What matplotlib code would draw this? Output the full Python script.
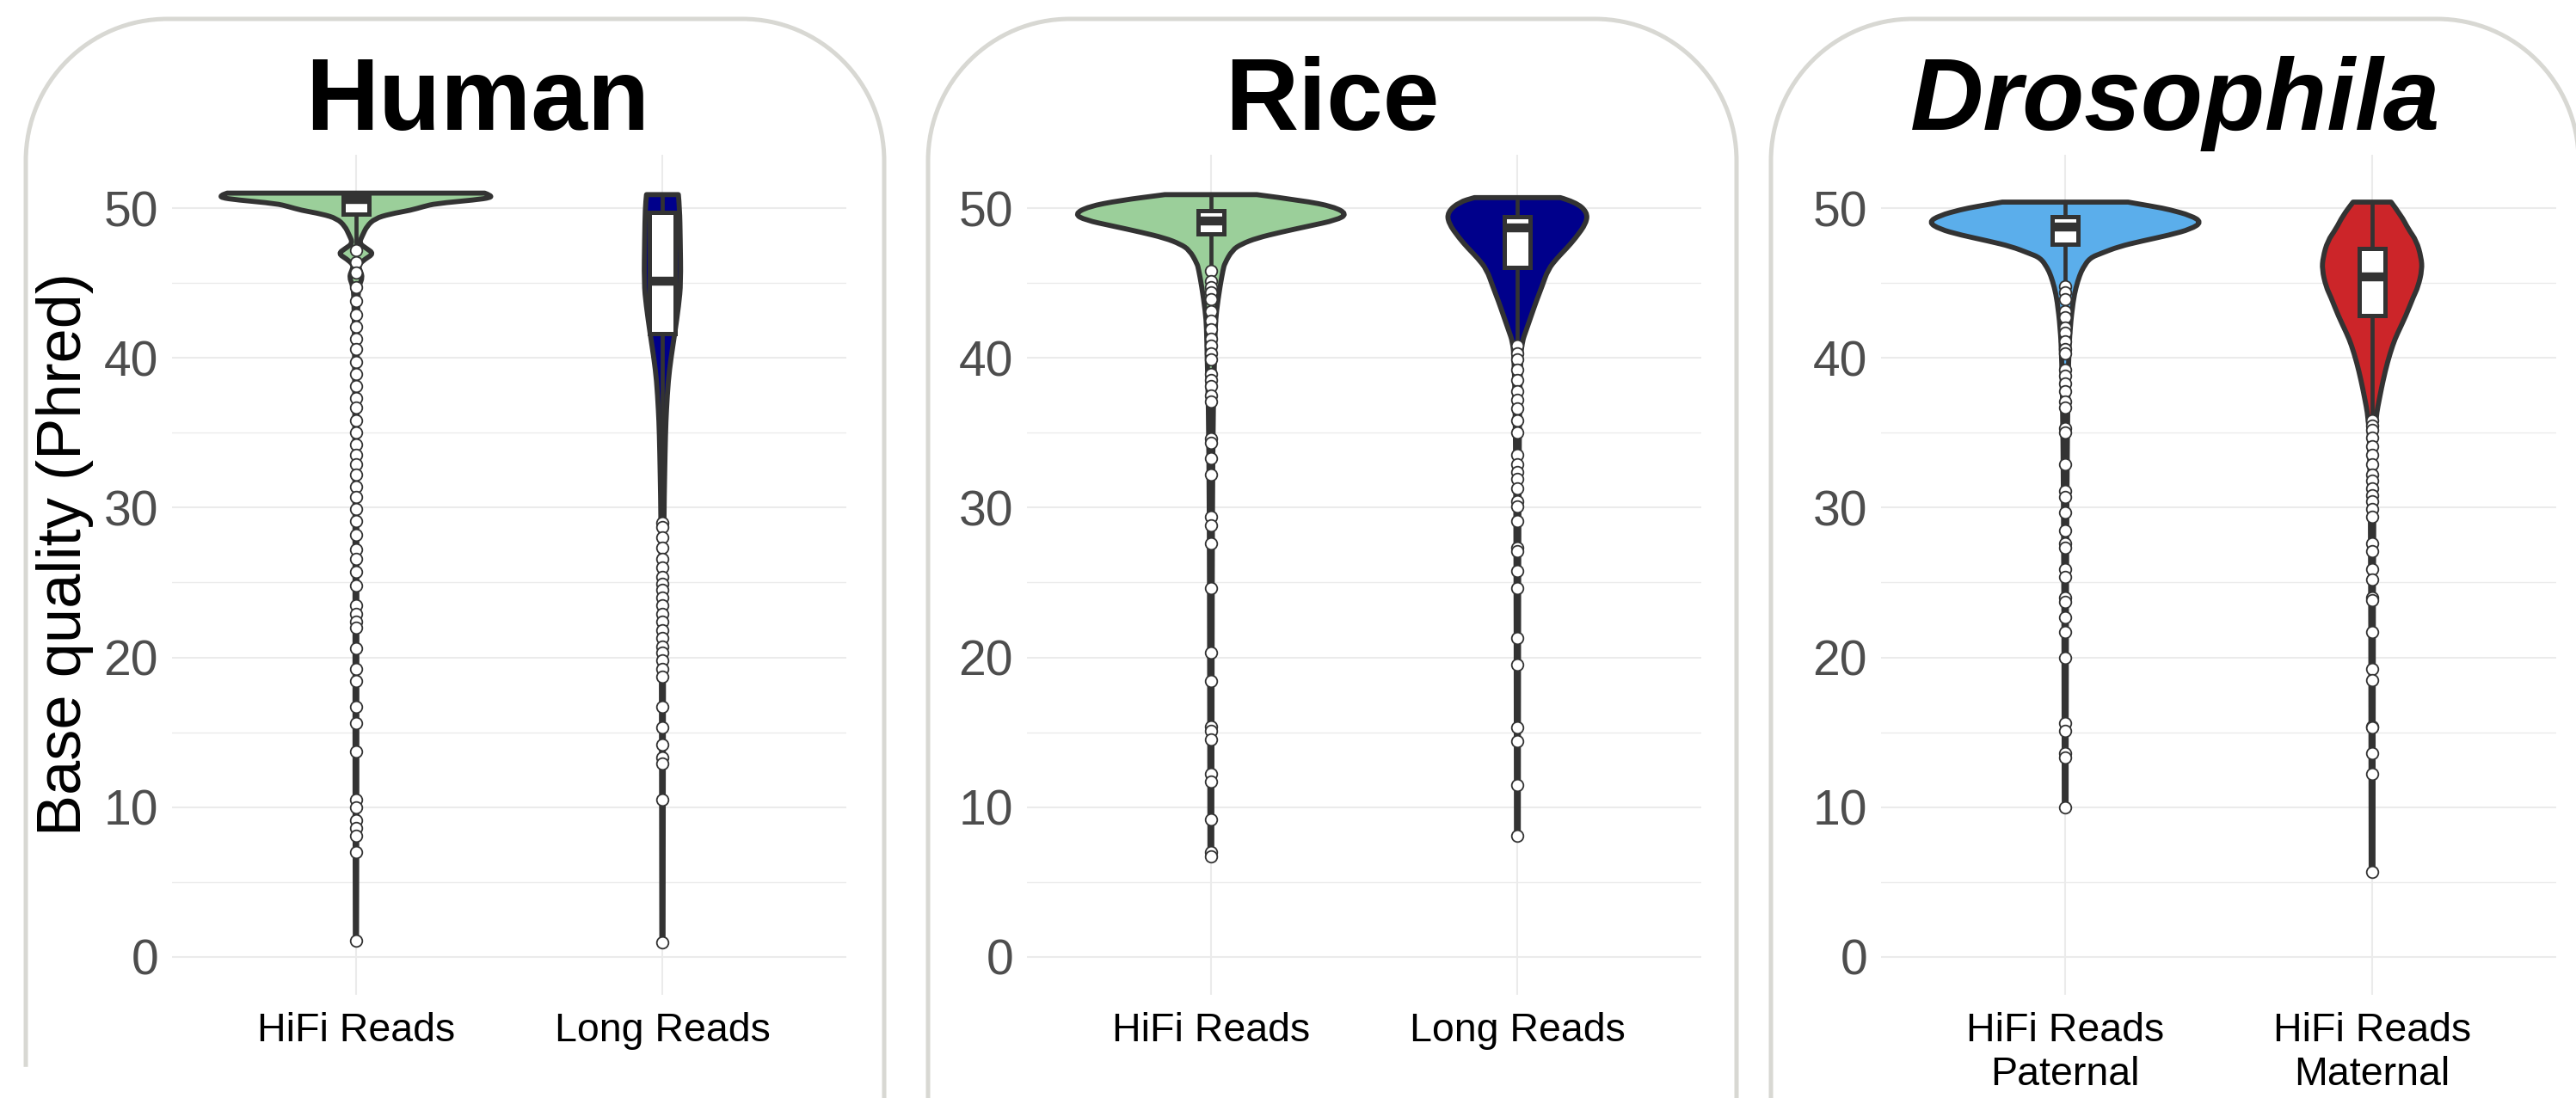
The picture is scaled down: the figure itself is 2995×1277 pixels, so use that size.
"""
Per-base quality of HiFi vs long reads for three genomes,
drawn as violins with an inner boxplot and outlier points.
"""

import matplotlib
matplotlib.use("Agg")
import matplotlib.pyplot as plt
from matplotlib.path import Path
from matplotlib.patches import PathPatch, Rectangle

W, H = 2995, 1277
FONT = "Liberation Sans"
EDGE = "#333333"
GRID = "#EBEBEB"
FRAME = "#D8D8D3"

GREEN = "#9BCF9A"
NAVY = "#00008B"
SKY = "#5BAEEB"
RED = "#CC2529"

# ── Data ───────────────────────────────────────────────────────
# violin profiles: quality level -> half width (in category units)
human_hifi_y = [51.0, 50.85, 50.7, 50.55, 50.3, 50.1, 49.86, 49.6, 49.3, 48.8, 48.2,
                47.65, 47.3, 46.96, 46.6, 46.2, 45.9, 45.4, 44.8, 44.0, 40.0, 30.0,
                20.0, 10.0, 1.1]
human_hifi_w = [0.42, 0.44, 0.44, 0.39, 0.26, 0.22, 0.18, 0.11, 0.062, 0.036, 0.022,
                0.010, 0.035, 0.058, 0.030, 0.008, 0.012, 0.022, 0.010, 0.006, 0.004,
                0.003, 0.003, 0.003, 0.002]
human_hifi_box = dict(q1=49.6, med=50.6, q3=50.9, whislo=47.6, whishi=51.0)
human_hifi_out = [47.2, 46.4, 45.7, 44.7, 43.8, 42.9, 42.1, 41.3, 40.6, 39.7, 38.9,
                  38.1, 37.3, 36.7, 35.8, 35.0, 34.2, 33.5, 32.9, 32.2, 31.4, 30.7,
                  29.9, 29.1, 28.2, 27.2, 26.6, 25.7, 24.8, 23.5, 22.9, 22.4, 22.0,
                  20.6, 19.2, 18.4, 16.7, 15.6, 13.7, 10.5, 10.0, 9.1, 8.6, 8.1, 7.0,
                  1.1]

human_long_y = [50.9, 50.0, 48.0, 45.0, 43.5, 41.6, 40.0, 38.5, 36.5, 35.0, 32.0,
                29.5, 25.0, 15.0, 1.0]
human_long_w = [0.052, 0.056, 0.058, 0.060, 0.053, 0.040, 0.028, 0.019, 0.013,
                0.010, 0.007, 0.005, 0.004, 0.003, 0.002]
human_long_box = dict(q1=41.6, med=45.1, q3=49.7, whislo=29.5, whishi=50.9)
human_long_out = [29.0, 28.7, 28.0, 27.3, 26.6, 26.0, 25.4, 24.9, 24.5, 24.0, 23.5,
                  22.9, 22.4, 21.8, 21.3, 20.7, 20.3, 19.8, 19.2, 18.7, 16.7, 15.3,
                  14.2, 13.3, 12.9, 10.5, 1.0]

rice_hifi_y = [50.9, 50.5, 50.1, 49.6, 49.2, 48.8, 48.4, 48.0, 47.6, 47.2, 46.3,
               45.9, 44.8, 43.1, 42.0, 40.0, 37.0, 30.0, 20.0, 6.7]
rice_hifi_w = [0.15, 0.30, 0.40, 0.445, 0.41, 0.32, 0.23, 0.15, 0.10, 0.07, 0.045,
               0.040, 0.030, 0.018, 0.014, 0.012, 0.008, 0.005, 0.004, 0.003]
rice_hifi_box = dict(q1=48.3, med=49.15, q3=49.8, whislo=46.1, whishi=50.9)
rice_hifi_out = [45.8, 45.1, 44.7, 44.4, 43.9, 43.1, 42.5, 41.9, 41.3, 40.8, 40.3,
                 39.9, 38.9, 38.5, 38.1, 37.5, 37.1, 34.6, 34.3, 33.3, 32.2, 29.4,
                 28.8, 27.6, 24.6, 20.3, 18.4, 15.4, 15.1, 14.5, 12.2, 11.7, 9.2,
                 7.0, 6.7]

rice_long_y = [50.7, 50.4, 49.73, 49.0, 48.0, 47.3, 46.67, 45.9, 44.75, 43.8, 42.8,
               41.8, 41.1, 40.0, 35.0, 25.0, 8.1]
rice_long_w = [0.14, 0.19, 0.228, 0.225, 0.19, 0.16, 0.13, 0.10, 0.08, 0.062, 0.045,
               0.028, 0.016, 0.010, 0.006, 0.004, 0.003]
rice_long_box = dict(q1=46.05, med=48.7, q3=49.4, whislo=41.1, whishi=50.7)
rice_long_out = [40.8, 40.3, 39.9, 39.2, 38.5, 37.8, 37.2, 36.6, 35.8, 35.0, 33.5,
                 32.9, 32.4, 31.9, 31.3, 30.4, 30.1, 29.1, 27.3, 27.1, 25.8, 24.6,
                 21.3, 19.5, 15.3, 14.4, 11.5, 8.1]

fly_pat_y = [50.4, 50.1, 49.9, 49.5, 49.06, 48.6, 48.2, 47.8, 47.43, 47.0, 46.67,
             46.0, 45.5, 44.7, 43.8, 42.0, 40.0, 35.0, 25.0, 10.0]
fly_pat_w = [0.205, 0.29, 0.34, 0.41, 0.445, 0.41, 0.34, 0.25, 0.175, 0.12, 0.08,
             0.058, 0.047, 0.035, 0.026, 0.016, 0.011, 0.007, 0.004, 0.003]
fly_pat_box = dict(q1=47.6, med=48.76, q3=49.4, whislo=45.0, whishi=50.4)
fly_pat_out = [44.8, 44.4, 43.9, 43.1, 42.7, 42.0, 41.7, 41.1, 40.6, 40.3, 39.2,
               38.8, 38.3, 37.8, 37.1, 36.7, 35.3, 35.0, 32.9, 31.1, 30.7, 29.7,
               28.5, 27.6, 27.3, 25.9, 25.4, 24.0, 23.7, 22.7, 21.7, 20.0, 15.6,
               15.1, 13.6, 13.3, 10.0]

fly_mat_y = [50.4, 49.5, 48.6, 47.8, 46.7, 45.9, 44.75, 44.1, 42.8, 41.6, 40.9,
             39.7, 38.5, 37.5, 36.0, 34.0, 25.0, 5.7]
fly_mat_w = [0.062, 0.095, 0.118, 0.145, 0.160, 0.163, 0.150, 0.135, 0.110, 0.082,
             0.068, 0.050, 0.036, 0.026, 0.012, 0.007, 0.004, 0.003]
fly_mat_box = dict(q1=42.84, med=45.4, q3=47.3, whislo=36.2, whishi=50.4)
fly_mat_out = [35.8, 35.5, 35.2, 34.7, 34.1, 33.5, 32.9, 32.2, 31.8, 31.3, 30.8,
               30.4, 29.9, 29.4, 27.6, 27.1, 25.9, 25.2, 24.0, 23.8, 21.7, 19.2,
               18.5, 15.4, 15.3, 13.6, 12.2, 5.7]

PANELS = [
    ("Human", "normal", ["HiFi Reads", "Long Reads"],
     [(human_hifi_y, human_hifi_w, human_hifi_box, human_hifi_out, GREEN),
      (human_long_y, human_long_w, human_long_box, human_long_out, NAVY)]),
    ("Rice", "normal", ["HiFi Reads", "Long Reads"],
     [(rice_hifi_y, rice_hifi_w, rice_hifi_box, rice_hifi_out, GREEN),
      (rice_long_y, rice_long_w, rice_long_box, rice_long_out, NAVY)]),
    ("Drosophila", "italic", ["HiFi Reads\nPaternal", "HiFi Reads\nMaternal"],
     [(fly_pat_y, fly_pat_w, fly_pat_box, fly_pat_out, SKY),
      (fly_mat_y, fly_mat_w, fly_mat_box, fly_mat_out, RED)]),
]

# ── Layout (pixels) ────────────────────────────────────────────
AXES_PX = [(200, 984), (1194, 1978), (2187, 2972)]
AX_TOP, AX_BOT = 180, 1157
FRAMES_PX = [(30, 1028), (1079, 2019), (2059, 2998)]
FRAME_TOP, FRAME_R = 22, 165
TITLE_X = [555, 1549, 2529]
TITLE_BASE = 151


def smooth_side(pts):
    """Quadratic curve through a list of points (current point = pts[0])."""
    verts, codes = [], []
    for i in range(1, len(pts) - 1):
        mid = ((pts[i][0] + pts[i + 1][0]) / 2, (pts[i][1] + pts[i + 1][1]) / 2)
        verts += [pts[i], mid]
        codes += [Path.CURVE3, Path.CURVE3]
    verts.append(pts[-1])
    codes.append(Path.LINETO)
    return verts, codes


def violin_path(center, ys, ws):
    right = [(center + w, y) for y, w in zip(ys, ws)]
    left = [(center - w, y) for y, w in zip(ys, ws)][::-1]
    verts, codes = [right[0]], [Path.MOVETO]
    v, c = smooth_side(right)
    verts += v
    codes += c
    verts.append(left[0])
    codes.append(Path.LINETO)
    v, c = smooth_side(left)
    verts += v
    codes += c
    verts.append(right[0])
    codes.append(Path.CLOSEPOLY)
    return Path(verts, codes)


def frame_path(x0, x1, top, r, bottom=1400):
    """Open-bottomed frame with rounded top corners (pixel coords, y down)."""
    k = 0.5523 * r
    verts = [(x0, bottom), (x0, top + r),
             (x0, top + r - k), (x0 + r - k, top), (x0 + r, top),
             (x1 - r, top),
             (x1 - r + k, top), (x1, top + r - k), (x1, top + r),
             (x1, bottom)]
    codes = [Path.MOVETO, Path.LINETO,
             Path.CURVE4, Path.CURVE4, Path.CURVE4,
             Path.LINETO,
             Path.CURVE4, Path.CURVE4, Path.CURVE4,
             Path.LINETO]
    return Path(verts, codes)


def fig_rect(x0, x1, y0, y1):
    return [x0 / W, 1 - y1 / H, (x1 - x0) / W, (y1 - y0) / H]


plt.rcParams["font.family"] = [FONT, "DejaVu Sans"]
fig = plt.figure(figsize=(W / 100, H / 100), dpi=100)
fig.patch.set_facecolor("white")

# rounded panel frames
bg = fig.add_axes([0, 0, 1, 1], zorder=-1)
bg.set_xlim(0, W)
bg.set_ylim(H, 0)
bg.axis("off")
for x0, x1 in FRAMES_PX:
    bg.add_patch(PathPatch(frame_path(x0, x1, FRAME_TOP, FRAME_R),
                           fill=False, ec=FRAME, lw=3.6, clip_on=False))
bg.add_patch(Rectangle((0, 1241), 400, 60, color="white", zorder=5))

for (title, style, labels, violins), (ax0, ax1), tx in zip(PANELS, AXES_PX, TITLE_X):
    ax = fig.add_axes(fig_rect(ax0, ax1, AX_TOP, AX_BOT))
    ax.set_facecolor("none")

    for pos, (ys, ws, box, outs, color) in enumerate(violins, start=1):
        ax.add_patch(PathPatch(violin_path(pos, ys, ws), facecolor=color,
                               edgecolor=EDGE, lw=4.2, joinstyle="round", zorder=2))
        stats = dict(box)
        stats["fliers"] = outs
        ax.bxp([stats], positions=[pos], widths=0.085, patch_artist=True,
               showcaps=False, manage_ticks=False, zorder=3,
               boxprops=dict(facecolor="white", edgecolor=EDGE, linewidth=3.6),
               medianprops=dict(color=EDGE, linewidth=7.5, solid_capstyle="butt"),
               whiskerprops=dict(color=EDGE, linewidth=3.4),
               flierprops=dict(marker="o", markerfacecolor="white",
                               markeredgecolor=EDGE, markersize=9.8,
                               markeredgewidth=1.3))

    ax.set_xlim(0.4, 2.6)
    ax.set_ylim(-2.53, 53.56)
    ax.set_xticks([1, 2])
    ax.set_xticklabels(labels)
    ax.set_yticks(range(0, 51, 10))
    ax.set_yticks(range(5, 50, 10), minor=True)
    ax.grid(which="major", color=GRID, lw=1.45)
    ax.grid(which="minor", axis="y", color=GRID, lw=1.0)
    ax.set_axisbelow(True)
    for sp in ax.spines.values():
        sp.set_visible(False)
    ax.tick_params(which="both", length=0)
    ax.tick_params(axis="y", labelsize=41, labelcolor="#4D4D4D", pad=11.5)
    ax.tick_params(axis="x", labelsize=33.5, labelcolor="black", pad=14.4)

    fig.text(tx / W, 1 - TITLE_BASE / H, title, ha="center", va="baseline",
             fontsize=85, fontweight="bold", fontstyle=style)

fig.text(76 / W, 1 - 644 / H, "Base quality (Phred)", rotation=90,
         ha="center", va="center", fontsize=52, color="black")

fig.savefig("out.png", dpi=100, facecolor="white")
